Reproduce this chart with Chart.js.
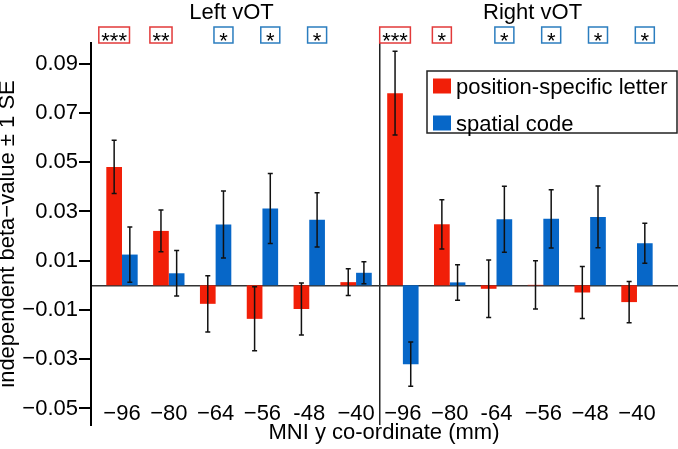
<!DOCTYPE html>
<html><head><meta charset="utf-8">
<script src="https://cdn.jsdelivr.net/npm/chart.js@4"></script>
<style>html,body{margin:0;padding:0;background:#fff;}canvas{display:block;}</style>
</head><body>
<canvas id="c" width="678" height="449"></canvas>
<script>
// ---- data ----
const CATEGORIES = ['−96','−80','−64','−56','-48','−40','−96','−80','-64','−56','−48','−40'];
const PANELS = ['Left vOT','Right vOT'];
const SERIES_NAMES = ['position-specific letter','spatial code'];
const LETTER = [0.0481,0.0221,-0.0075,-0.0136,-0.0096,0.0013, 0.0780,0.0248,-0.0014,0.0002,-0.0029,-0.0068];
const LETTER_SE = [0.0108,0.0085,0.0114,0.0130,0.0106,0.0054, 0.0170,0.0100,0.0117,0.0098,0.0106,0.0084];
const SPATIAL = [0.0125,0.0049,0.0247,0.0312,0.0266,0.0051, -0.0320,0.0012,0.0268,0.0270,0.0278,0.0171];
const SPATIAL_SE = [0.0112,0.0092,0.0136,0.0142,0.0110,0.0045, 0.0090,0.0072,0.0134,0.0118,0.0125,0.0081];
const LETTER_SIG = ['***','**','','','','', '***','*','','','',''];
const SPATIAL_SIG = ['','','*','*','*','', '','','*','*','*','*'];
const Y_TICKS = [-0.05,-0.03,-0.01,0.01,0.03,0.05,0.07,0.09];

// ---- style / layout ----
const FONT = '"Liberation Sans", Arial, Helvetica, sans-serif';
const RED = '#f11f08', BLUE = '#0767c8';
const RED_BOX = '#e23a3a', BLUE_BOX = '#2b7dbf';
const X_MIN = -0.662, X_MAX = 11.855;
const Y_MIN = -0.0567, Y_MAX = 0.0984;
const DIVIDER = 5.5;
const PANEL_TITLE_AT = [2.34, 8.77];
Chart.defaults.font.family = FONT;
Chart.defaults.color = '#000';

const xy = (arr) => arr.map((v, i) => ({x: i, y: v}));

const errorBars = {
  id: 'errorBars',
  afterDatasetsDraw(chart) {
    const ctx = chart.ctx, ys = chart.scales.y;
    chart.data.datasets.forEach((ds, di) => {
      const meta = chart.getDatasetMeta(di);
      meta.data.forEach((bar, i) => {
        const v = ds.data[i].y, se = ds.se[i];
        const t = ys.getPixelForValue(v + se), b = ys.getPixelForValue(v - se);
        ctx.save();
        ctx.strokeStyle = '#111'; ctx.lineWidth = 1.5;
        ctx.beginPath();
        ctx.moveTo(bar.x, t); ctx.lineTo(bar.x, b);
        ctx.moveTo(bar.x - 2.5, t); ctx.lineTo(bar.x + 2.5, t);
        ctx.moveTo(bar.x - 2.5, b); ctx.lineTo(bar.x + 2.5, b);
        ctx.stroke();
        ctx.restore();
      });
    });
  }
};

const annotations = {
  id: 'annotations',
  afterDraw(chart) {
    const ctx = chart.ctx, ca = chart.chartArea, xs = chart.scales.x;
    ctx.save();
    ctx.font = '22px ' + FONT; ctx.fillStyle = '#000';
    ctx.textAlign = 'center'; ctx.textBaseline = 'middle';
    PANELS.forEach((p, i) => ctx.fillText(p, xs.getPixelForValue(PANEL_TITLE_AT[i]), 13));
    const boxCy = ca.top - 8;
    chart.data.datasets.forEach((ds, di) => {
      const meta = chart.getDatasetMeta(di);
      meta.data.forEach((bar, i) => {
        const s = ds.sig[i];
        if (!s) return;
        ctx.font = '22px ' + FONT;
        const w = Math.max(ctx.measureText(s).width + 5, 19), h = 16;
        ctx.fillStyle = '#fff';
        ctx.fillRect(bar.x - w / 2, boxCy - h / 2, w, h);
        ctx.strokeStyle = ds.boxColor; ctx.lineWidth = 1.5;
        ctx.strokeRect(bar.x - w / 2, boxCy - h / 2, w, h);
        ctx.fillStyle = '#000'; ctx.textAlign = 'center'; ctx.textBaseline = 'alphabetic';
        ctx.fillText(s, bar.x, boxCy + 12.5);
      });
    });
    const lx = ca.right - 250, ly = ca.top + 28, lw = 250, lh = 62;
    ctx.fillStyle = '#fff'; ctx.fillRect(lx, ly, lw, lh);
    ctx.strokeStyle = '#222'; ctx.lineWidth = 1.5; ctx.strokeRect(lx, ly, lw, lh);
    chart.data.datasets.forEach((ds, di) => {
      const base = ly + 22.5 + di * 37;
      ctx.fillStyle = ds.backgroundColor;
      ctx.fillRect(lx + 6, base - 15, 18, 15);
      ctx.fillStyle = '#000'; ctx.font = '22px ' + FONT;
      ctx.textAlign = 'left'; ctx.textBaseline = 'alphabetic';
      ctx.fillText(ds.label, lx + 29, base);
    });
    ctx.restore();
  }
};

new Chart(document.getElementById('c'), {
  type: 'bar',
  data: {
    datasets: [
      {label: SERIES_NAMES[0], data: xy(LETTER), se: LETTER_SE, sig: LETTER_SIG, boxColor: RED_BOX,
       backgroundColor: RED, borderWidth: 0, categoryPercentage: 0.67, barPercentage: 1.0},
      {label: SERIES_NAMES[1], data: xy(SPATIAL), se: SPATIAL_SE, sig: SPATIAL_SIG, boxColor: BLUE_BOX,
       backgroundColor: BLUE, borderWidth: 0, categoryPercentage: 0.67, barPercentage: 1.0}
    ]
  },
  options: {
    responsive: false,
    animation: false,
    devicePixelRatio: 1,
    layout: {padding: {top: 43, right: 1, left: 0, bottom: 0}},
    plugins: {legend: {display: false}, tooltip: {enabled: false}},
    scales: {
      x: {
        type: 'linear', position: 'bottom', min: X_MIN, max: X_MAX, offset: false, bounds: 'data',
        afterBuildTicks: (s) => { s.ticks = [{value: DIVIDER}]; },
        afterFit: (s) => { s.height = 24; },
        ticks: {display: false},
        grid: {display: true, offset: false, drawOnChartArea: true, drawTicks: false, color: '#222', lineWidth: 1.5},
        border: {display: false},
        title: {display: true, text: 'MNI y co-ordinate (mm)', font: {size: 22}, color: '#000', padding: {top: 0, bottom: 3}}
      },
      x0: {
        type: 'linear', position: {y: 0}, min: X_MIN, max: X_MAX, offset: false, bounds: 'data',
        ticks: {display: false},
        grid: {display: false, offset: false},
        border: {display: true, color: '#333', width: 1.5}
      },
      xl: {
        type: 'linear', position: {y: -0.0422}, min: X_MIN, max: X_MAX, offset: false, bounds: 'data',
        afterBuildTicks: (s) => { s.ticks = CATEGORIES.map((c, i) => ({value: i})); },
        ticks: {display: true, autoSkip: false, maxRotation: 0, padding: 3, font: {size: 22}, color: '#000',
                callback: (v, i) => CATEGORIES[i]},
        grid: {display: false, offset: false},
        border: {display: false}
      },
      y: {
        type: 'linear', position: 'left', min: Y_MIN, max: Y_MAX,
        afterBuildTicks: (s) => { s.ticks = Y_TICKS.map(v => ({value: v})); },
        afterFit: (s) => { s.width = 91; },
        ticks: {font: {size: 22}, color: '#000', padding: 1,
                callback: (v) => (v < 0 ? '−' : '') + Math.abs(v).toFixed(2)},
        grid: {display: true, drawOnChartArea: false, drawTicks: true, tickLength: 12, color: '#000', lineWidth: 2},
        border: {display: true, color: '#000', width: 2},
        title: {display: true, text: 'independent beta−value ± 1 SE', font: {size: 22, lineHeight: 1}, color: '#000', padding: {top: -3, bottom: 0}}
      }
    }
  },
  plugins: [errorBars, annotations]
});
</script>
</body></html>
